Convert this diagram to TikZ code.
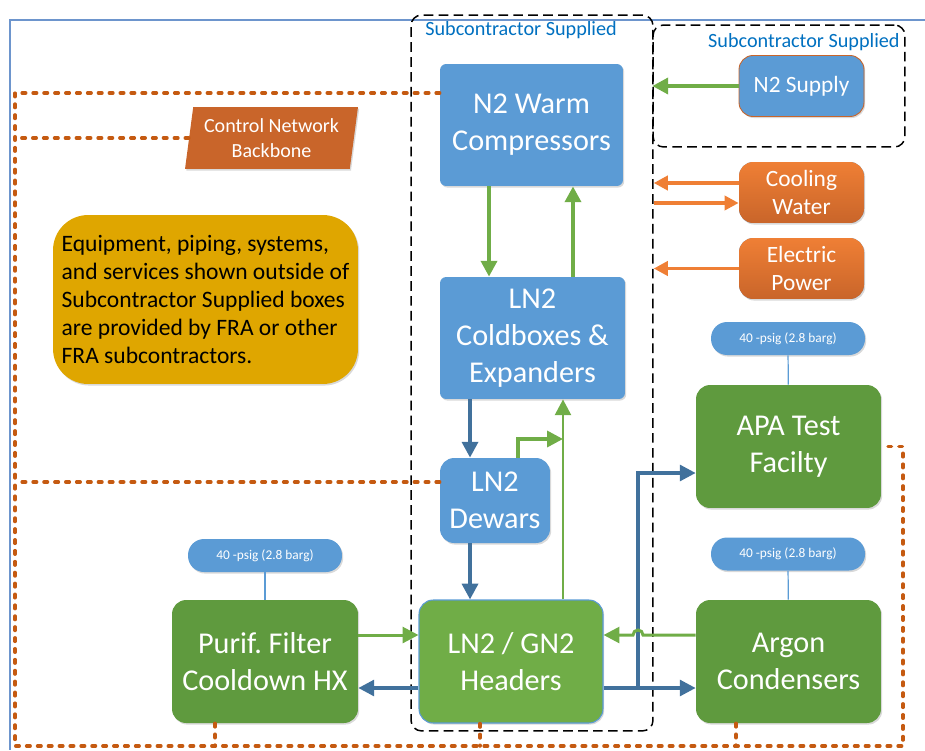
\documentclass[tikz,border=0pt]{standalone}
\usepackage{fontspec}
\setmainfont{Carlito}
\usetikzlibrary{arrows.meta, shapes.geometric, shadows}

\definecolor{boxblue}{HTML}{5B9BD5}
\definecolor{hdrgreen}{HTML}{70AD47}
\definecolor{eqgreen}{HTML}{5F9A3E}
\definecolor{utilorange}{HTML}{EF7F35}
\definecolor{utildark}{HTML}{C9652A}
\definecolor{notegold}{HTML}{DFA600}
\definecolor{ctrlorange}{HTML}{C55A11}
\definecolor{pipeblue}{HTML}{41719C}
\definecolor{pipegreen}{HTML}{70AD47}
\definecolor{subblue}{HTML}{0070C0}
\definecolor{frameblue}{HTML}{6D95CD}

\begin{document}
\begin{tikzpicture}[x=0.02cm, y=-0.02cm,
    soft/.style={drop shadow={shadow xshift=0.7pt, shadow yshift=-0.9pt, opacity=0.3}},
    equip/.style={rectangle, fill=boxblue, text=white, align=center, inner sep=0pt,
        rounded corners=3.5pt, font=\fontsize{17.2}{21}\selectfont, soft},
    tank/.style={equip, rounded corners=8pt},
    header/.style={equip, fill=hdrgreen, draw=boxblue, line width=0.6pt, rounded corners=8pt},
    user/.style={equip, fill=eqgreen, rounded corners=8pt,
        minimum width=3.7cm, minimum height=2.46cm},
    util/.style={equip, top color=utilorange, bottom color=utildark, rounded corners=8pt,
        font=\fontsize{13.3}{15.6}\selectfont, minimum width=2.5cm, minimum height=1.22cm},
    psig/.style={rectangle, fill=boxblue, text=white, rounded corners=0.32cm, soft,
        minimum width=3.08cm, minimum height=0.66cm, font=\fontsize{7.6}{9}\selectfont},
    backbone/.style={trapezium, trapezium left angle=78, trapezium right angle=102,
        trapezium stretches body, fill=utildark, text=white, align=center, soft,
        minimum width=3.46cm, minimum height=1.24cm, inner sep=0pt,
        font=\fontsize{11.4}{14}\selectfont},
    note/.style={rectangle, fill=notegold, rounded corners=20pt, align=left, soft,
        minimum width=6.1cm, minimum height=3.38cm, inner sep=0pt,
        font=\fontsize{13.4}{15.9}\selectfont},
    grp/.style={draw, line width=0.85pt, dash pattern=on 5.5pt off 3pt, rounded corners=6pt},
    grplabel/.style={text=subblue, inner sep=0pt, font=\fontsize{11.5}{13}\selectfont},
    ctrl/.style={draw=ctrlorange, line width=2pt, line cap=round, dash pattern=on 2pt off 4.2pt},
    gpipe/.style={draw=pipegreen, line width=2.3pt, -{Triangle[length=9pt,width=9pt]}},
    bpipe/.style={draw=pipeblue, line width=2.2pt, -{Triangle[length=9pt,width=9pt]}},
    opipe/.style={draw=utilorange, line width=2pt, -{Triangle[length=8pt,width=8pt]}},
    tap/.style={draw=boxblue, line width=0.7pt}]

    \useasboundingbox (0,0) rectangle (925,750);
    \draw[frameblue, line width=1pt] (925,20) -- (10,20) -- (10,750);

    % subcontractor boundaries
    \node[grp, minimum width=4.84cm, minimum height=14.32cm] (sub1) at (532,373) {};
    \node[grp, minimum width=5.04cm, minimum height=2.44cm] (sub2) at (779,86) {};
    \node[grplabel, anchor=west] (lab1) at (425,30) {Subcontractor Supplied};
    \node[grplabel, anchor=east] (lab2) at (900,42) {Subcontractor Supplied};

    % equipment
    \node[equip, minimum width=3.66cm, minimum height=2.44cm] (comp) at (531.5,125) {N2 Warm\\Compressors};
    \node[equip, minimum width=3.7cm, minimum height=2.44cm] (cold) at (532.5,338) {LN2\\Coldboxes \&\\Expanders};
    \node[tank, minimum width=2.2cm, minimum height=1.7cm] (dew) at (495,500.5) {LN2\\Dewars};
    \node[header, minimum width=3.68cm, minimum height=2.46cm] (hdr) at (511,661.5) {LN2 / GN2\\Headers};
    \node[user, minimum width=3.72cm] (purif) at (265,661.5) {Purif.\ Filter\\Cooldown HX};
    \node[user] (apa) at (788.5,446.5) {APA Test\\Facilty};
    \node[user] (argon) at (788.5,661.5) {Argon\\Condensers};

    \node[psig] (pp1) at (265,555.5) {40 -psig (2.8 barg)};
    \node[psig] (pp2) at (788,338.5) {40 -psig (2.8 barg)};
    \node[psig] (pp3) at (788,554) {40 -psig (2.8 barg)};

    % utilities
    \node[util, fill=boxblue, top color=boxblue, bottom color=boxblue, draw=utildark,
        line width=0.5pt] (n2s) at (801.5,86) {N2 Supply};
    \node[util] (cw) at (801.5,192.5) {Cooling\\Water};
    \node[util] (ep) at (801.5,268.5) {Electric\\Power};

    \node[backbone] (cnb) at (271.5,138) {Control Network\\Backbone};
    \node[note] (txt) at (205.5,299.5) {Equipment, piping, systems,\\and services shown outside of\\Subcontractor Supplied boxes\\are provided by FRA or other\\FRA subcontractors.};

    % control network
    \coordinate (busTL) at (15,93);
    \coordinate (busBL) at (15,746);
    \coordinate (busBR) at (903,746);
    \draw[ctrl] ([yshift=0.64cm]comp.west) -| (busBL) -- (busBR) |- (apa.east);
    \draw[ctrl] (cnb.west) -- (cnb.west -| busTL);
    \draw[ctrl] ([yshift=0.37cm]dew.west) -- ([yshift=0.37cm]dew.west -| busTL);
    \draw[ctrl] ([xshift=-1cm]purif.south) -- ([xshift=-1cm]purif.south |- busBL);
    \draw[ctrl] ([xshift=-0.62cm]hdr.south) -- ([xshift=-0.62cm]hdr.south |- busBL);
    \draw[ctrl] ([xshift=-1.05cm]argon.south) -- ([xshift=-1.05cm]argon.south |- busBL);

    % pressure taps
    \draw[tap] (pp1) -- (purif);
    \draw[tap] (pp2) -- (apa);
    \draw[tap] (pp3) -- (argon);

    % utility lines
    \draw[gpipe, line width=2.6pt] (n2s.west) -- (n2s.west -| sub2.west);
    \draw[opipe] ([yshift=0.19cm]cw.west) -- ([yshift=0.19cm]cw.west -| sub1.east);
    \draw[opipe] ([yshift=-0.21cm]cw.west -| sub1.east) -- ([yshift=-0.21cm]cw.west);
    \draw[opipe] (ep.west) -- (ep.west -| sub1.east);

    % nitrogen loop
    \draw[gpipe] ([xshift=-0.85cm]comp.south) -- ([xshift=-0.85cm]comp.south |- cold.north);
    \draw[gpipe] ([xshift=0.81cm]cold.north) -- ([xshift=0.81cm]cold.north |- comp.south);
    \draw[bpipe] ([xshift=-1.25cm]cold.south) -- ([xshift=-1.25cm]cold.south |- dew.north);
    \draw[bpipe] ([xshift=-0.5cm]dew.south) -- ([xshift=-0.5cm]dew.south |- hdr.north);
    \coordinate (tee) at (563,439);
    \draw[gpipe, line width=1.7pt] ([xshift=1.04cm]hdr.north) -- ([xshift=1.04cm]hdr.north |- cold.south);
    \draw[gpipe, line width=2pt] ([xshift=0.46cm]dew.north) |- (tee);

    % headers to users
    \draw[gpipe, line width=1.7pt] ([yshift=0.53cm]purif.east) -- ([yshift=0.53cm]purif.east -| hdr.west);
    \draw[bpipe, line width=1.9pt] ([yshift=-0.53cm]hdr.west) -- ([yshift=-0.53cm]hdr.west -| purif.east);
    \coordinate (split) at (638,688);
    \coordinate (hop) at (643,635);
    \draw[bpipe, line width=1.9pt] ([yshift=-0.53cm]hdr.east) -- ([yshift=-0.53cm]hdr.east -| argon.west);
    \draw[bpipe, line width=1.9pt] (split) |- ([yshift=-0.53cm]apa.west);
    \draw[gpipe, line width=1.7pt] ([yshift=0.53cm]argon.west) -- (hop)
        arc[start angle=0, end angle=180, radius=0.1cm] -- ([yshift=0.53cm]hdr.east);

\end{tikzpicture}
\end{document}
